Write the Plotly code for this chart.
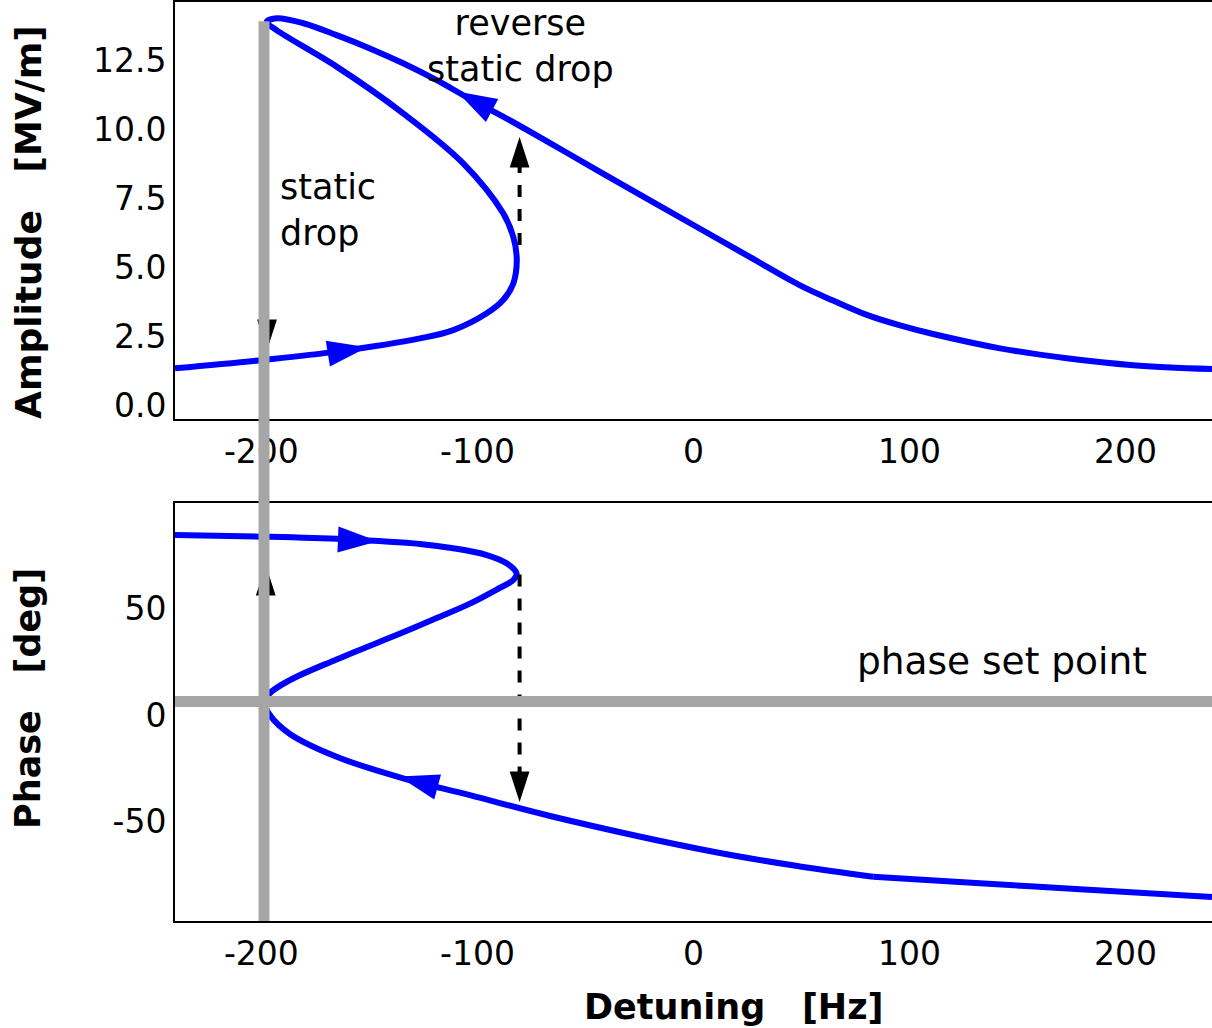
import plotly.graph_objects as go

# ---------------- data ----------------
# Amplitude resonance curve (traced along the path: lower branch -> fold -> middle -> top -> upper branch)
amp_detuning = [-240, -199.2, -165.2, -126.6, -111.2, -95.7, -88.1, -83.4, -81.8, -83.4,
                -88.1, -106.6, -134.4, -165.2, -193.0, -197.6, -193.0, -180.6, -165.2, -149.8,
                -134.4, -118.9, -103.5, -88.1, -66.4, -43.3, 3.0, 26.2, 49.3, 64.6, 80.2,
                95.6, 110.9, 141.9, 172.8, 203.5, 240]
amp_values = [1.34, 1.64, 1.94, 2.42, 2.72, 3.33, 3.81, 4.41, 5.26, 6.09,
              6.95, 8.76, 10.57, 12.26, 13.58, 13.88, 14.01, 13.83, 13.40, 12.92,
              12.38, 11.77, 11.09, 10.45, 9.49, 8.45, 6.39, 5.36, 4.34, 3.79, 3.27,
              2.89, 2.58, 2.06, 1.70, 1.45, 1.31]

# Phase curve (same path order); after the kink near +83 Hz it is nearly straight
phase_detuning = [-240, -199.2, -162.1, -126.6, -111.2, -95.7, -86.5, -81.9, -83.4, -91.1,
                  -103.5, -118.9, -134.4, -165.2, -186.8, -196.1, -198.4, -196.1, -186.8, -165.2,
                  -134.4, -103.5, -66.4, 9.2, 49.3, 83.2, 132.6, 178.9, 240]
phase_values = [84.5, 83.7, 82.5, 80.3, 78.3, 75.1, 71.2, 66.5, 63.4, 58.9,
                52.3, 45.5, 38.8, 26.1, 16.4, 10.2, 5.6, 0.0, -8.9, -19.6,
                -29.7, -37.6, -47.4, -64.2, -71.1, -75.9, -79.0, -81.8, -85.4]
phase_kink_index = 25

# direction arrows on the curves: (previous point, tip)
amp_arrow_lower_x = [-170, -151]
amp_arrow_lower_y = [1.86, 2.10]
amp_arrow_upper_x = [-92, -109.5]
amp_arrow_upper_y = [10.62, 11.36]
phase_arrow_upper_x = [-165, -146.1]
phase_arrow_upper_y = [82.4, 81.6]
phase_arrow_lower_x = [-115, -136.3]
phase_arrow_lower_y = [-34.7, -28.9]

# jump arrows (dashed black)
reverse_drop_detuning = -80.5
reverse_drop_amp = [5.80, 8.9, 9.71]       # shaft start, shaft end, tip
reverse_drop_phase = [66.0, -28.0, -40.8]
static_drop_amp_x = [-197.4, -197.4]
static_drop_amp_y = [6.0, 2.0]
static_drop_phase_x = [-198, -198]
static_drop_phase_y = [30, 70.4]

# reference lines
static_drop_detuning = -198.8
static_drop_top_amp = 13.9
phase_set_point = 6.3

# axes
x_range = [-240, 240]
amp_range = [-0.5, 14.6]
phase_range = [-96.7, 99.5]
x_ticks = [-200, -100, 0, 100, 200]
x_ticktext = ['-200', '-100', '0', '100', '200']
amp_ticks = [0, 2.5, 5, 7.5, 10, 12.5]
amp_ticktext = ['0.0', '2.5', '5.0', '7.5', '10.0', '12.5']
phase_ticks = [-50, 0, 50]
phase_ticktext = ['-50', '0', '50']

# ---------------- styling ----------------
BLUE = '#0000ff'
GRAY = '#a6a6a6'
FONT = 'DejaVu Sans'
LW = 6
top_dom = [0.5462, 1.0]
bot_dom = [0.0, 0.4548]

fig = go.Figure()

fig.add_trace(go.Scatter(x=amp_detuning, y=amp_values, mode='lines',
                         line=dict(color=BLUE, width=LW, shape='spline', smoothing=1.0),
                         xaxis='x', yaxis='y', hoverinfo='skip'))
k = phase_kink_index
fig.add_trace(go.Scatter(x=phase_detuning[:k + 1], y=phase_values[:k + 1], mode='lines',
                         line=dict(color=BLUE, width=LW, shape='spline', smoothing=1.0),
                         xaxis='x2', yaxis='y2', hoverinfo='skip'))
fig.add_trace(go.Scatter(x=phase_detuning[k:], y=phase_values[k:], mode='lines',
                         line=dict(color=BLUE, width=LW, shape='spline', smoothing=0.6),
                         xaxis='x2', yaxis='y2', hoverinfo='skip'))


def arrow_head(xs, ys, color, size, xa, ya):
    fig.add_trace(go.Scatter(x=xs, y=ys, mode='markers',
                             marker=dict(symbol='arrow', angleref='previous', size=[0, size],
                                         color=color, opacity=1, line=dict(width=0)),
                             opacity=1, xaxis=xa, yaxis=ya, hoverinfo='skip'))


arrow_head(amp_arrow_lower_x, amp_arrow_lower_y, BLUE, 42, 'x', 'y')
arrow_head(amp_arrow_upper_x, amp_arrow_upper_y, BLUE, 42, 'x', 'y')
arrow_head(phase_arrow_upper_x, phase_arrow_upper_y, BLUE, 42, 'x2', 'y2')
arrow_head(phase_arrow_lower_x, phase_arrow_lower_y, BLUE, 42, 'x2', 'y2')

# dashed jump arrows
fig.add_trace(go.Scatter(x=[reverse_drop_detuning] * 2, y=reverse_drop_amp[:2], mode='lines',
                         line=dict(color='black', width=4, dash='12px,12px'),
                         xaxis='x', yaxis='y', hoverinfo='skip'))
arrow_head([reverse_drop_detuning] * 2, [reverse_drop_amp[0], reverse_drop_amp[2]], 'black', 32, 'x', 'y')
fig.add_trace(go.Scatter(x=[reverse_drop_detuning] * 2, y=reverse_drop_phase[:2], mode='lines',
                         line=dict(color='black', width=4, dash='12px,12px'),
                         xaxis='x2', yaxis='y2', hoverinfo='skip'))
arrow_head([reverse_drop_detuning] * 2, [reverse_drop_phase[0], reverse_drop_phase[2]], 'black', 32, 'x2', 'y2')
arrow_head(static_drop_amp_x, static_drop_amp_y, 'black', 32, 'x', 'y')
arrow_head(static_drop_phase_x, static_drop_phase_y, 'black', 32, 'x2', 'y2')

# gray reference lines (drawn above the traces)
vline_top = top_dom[0] + (static_drop_top_amp - amp_range[0]) / (amp_range[1] - amp_range[0]) * (top_dom[1] - top_dom[0])
fig.add_shape(type='line', xref='x', yref='paper', x0=static_drop_detuning, x1=static_drop_detuning,
              y0=0, y1=vline_top, line=dict(color=GRAY, width=11), layer='above')
fig.add_shape(type='line', xref='x2 domain', yref='y2', x0=0, x1=1, y0=phase_set_point, y1=phase_set_point,
              line=dict(color=GRAY, width=11), layer='above')

txt = dict(family=FONT, size=35, color='black')
fig.add_annotation(x=-80.3, y=13.0, xref='x', yref='y', text='reverse<br>static drop', showarrow=False,
                   font=txt, align='center', xanchor='center', yanchor='middle')
fig.add_annotation(x=-192.5, y=7.07, xref='x', yref='y', text='static<br>drop', showarrow=False,
                   font=txt, align='left', xanchor='left', yanchor='middle')
fig.add_annotation(x=143, y=25.5, xref='x2', yref='y2', text='phase set point', showarrow=False,
                   font=dict(family=FONT, size=37.5, color='black'), xanchor='center', yanchor='middle')

# axis titles
NB = '\u00a0'
fig.add_annotation(x=-0.1418, y=0.7606, xref='paper', yref='paper', text='Amplitude' + NB * 3 + '[MV/m]',
                   textangle=-90, showarrow=False,
                   font=dict(family=FONT, size=36, color='black', weight='bold'),
                   xanchor='center', yanchor='middle')
fig.add_annotation(x=-0.1418, y=0.2427, xref='paper', yref='paper', text='Phase' + NB * 3 + '[deg]',
                   textangle=-90, showarrow=False,
                   font=dict(family=FONT, size=35, color='black', weight='bold'),
                   xanchor='center', yanchor='middle')
fig.add_annotation(x=0.5395, y=-0.0936, xref='paper', yref='paper', text='Detuning' + NB * 3 + '[Hz]',
                   showarrow=False, font=dict(family=FONT, size=35, color='black', weight='bold'),
                   xanchor='center', yanchor='middle')

tickfont = dict(family=FONT, size=33, color='black')
xcommon = dict(range=x_range, tickvals=x_ticks, ticktext=x_ticktext, showgrid=False, zeroline=False,
               showline=True, linecolor='black', linewidth=2, mirror=True, ticks='', tickfont=tickfont,
               ticklabelstandoff=2)
ycommon = dict(showgrid=False, zeroline=False, showline=True, linecolor='black', linewidth=2,
               ticks='', tickfont=tickfont)

fig.update_layout(
    width=1212, height=1028,
    margin=dict(l=175, r=0, t=2, b=107),
    paper_bgcolor='white', plot_bgcolor='white',
    showlegend=False,
    xaxis=dict(domain=[0, 1], anchor='y', **xcommon),
    yaxis=dict(domain=top_dom, anchor='x', range=amp_range, tickvals=amp_ticks, ticktext=amp_ticktext, **ycommon),
    xaxis2=dict(domain=[0, 1], anchor='y2', **xcommon),
    yaxis2=dict(domain=bot_dom, anchor='x2', range=phase_range, tickvals=phase_ticks, ticktext=phase_ticktext, **ycommon),
)

fig.write_html('out.html')
